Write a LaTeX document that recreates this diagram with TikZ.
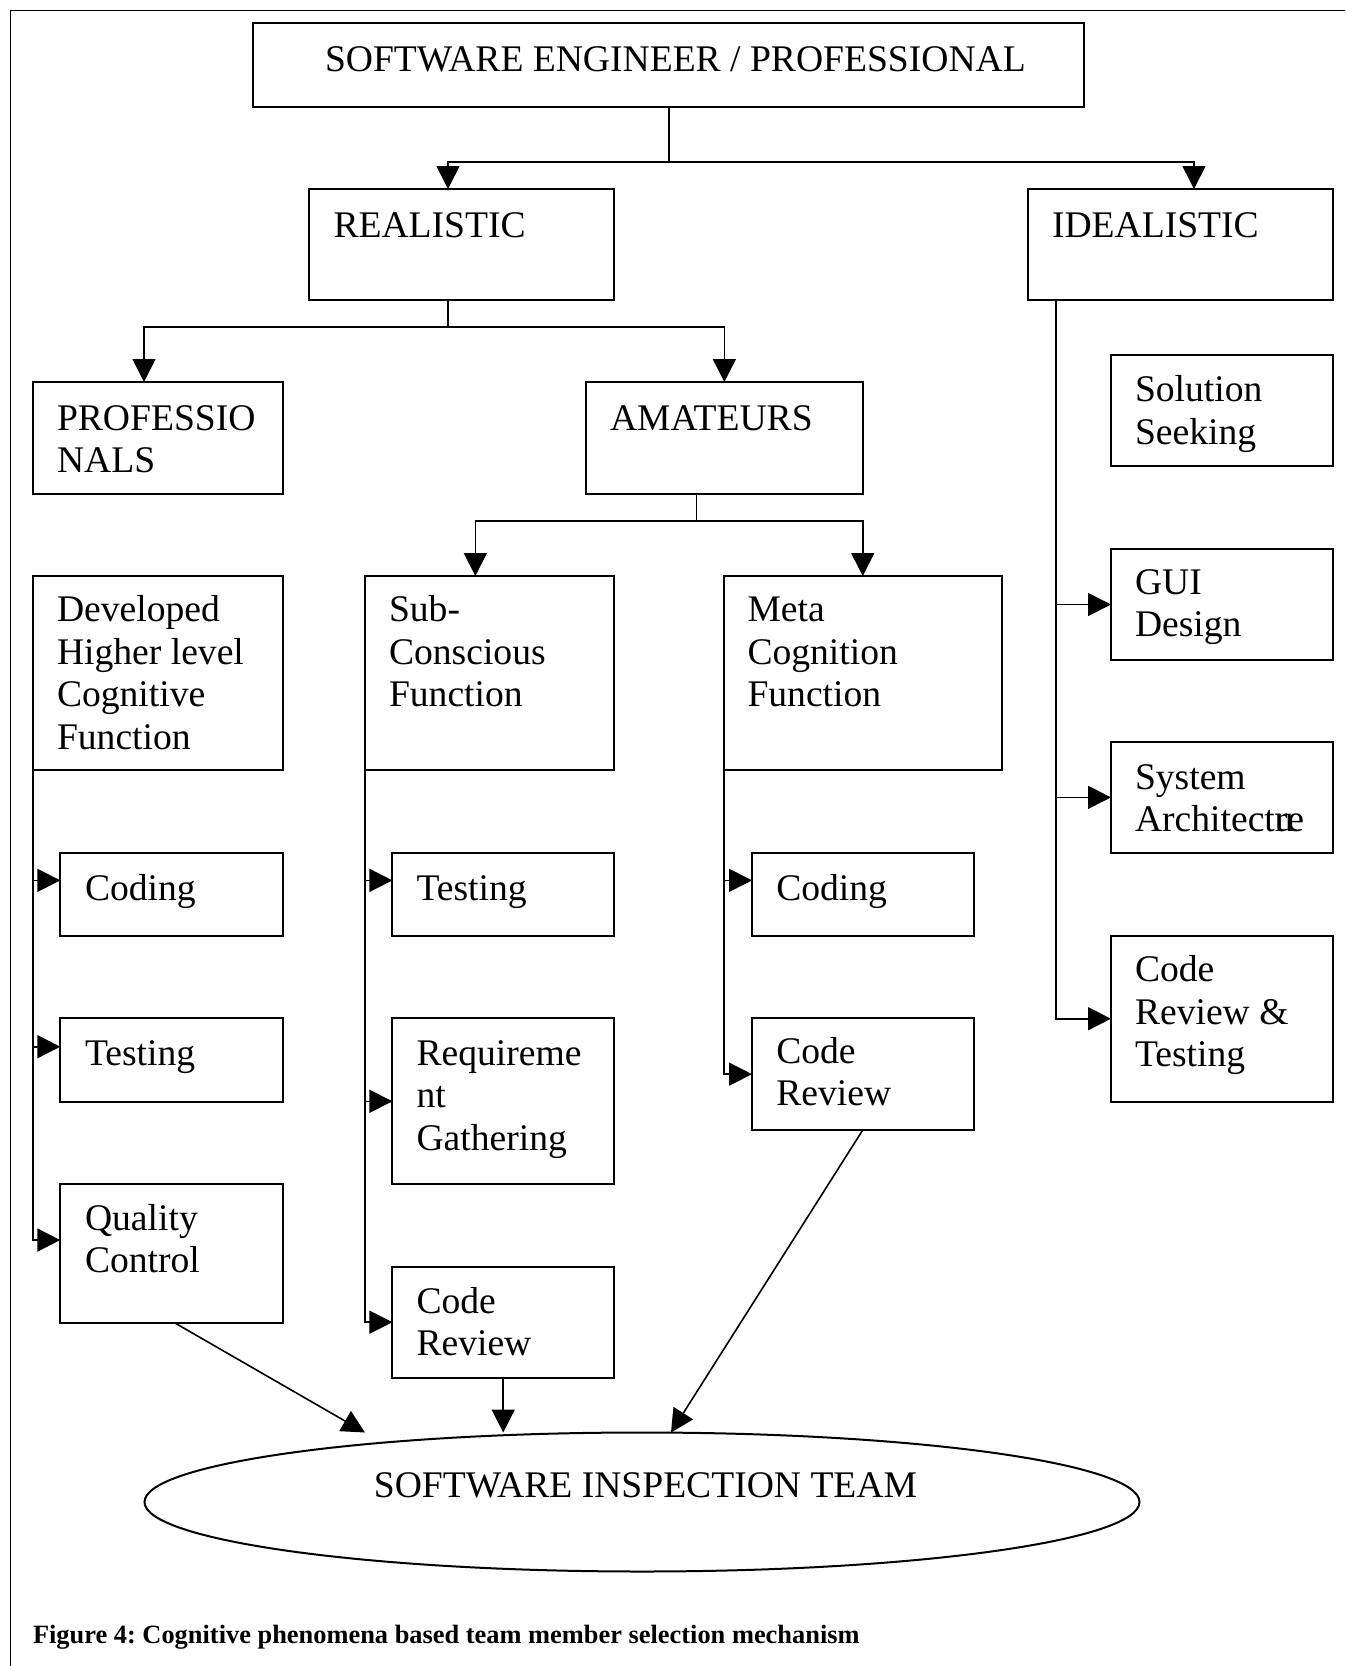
\documentclass[tikz,border=0pt]{standalone}
\usepackage{fontspec}
\setmainfont{Liberation Serif}
\usetikzlibrary{arrows.meta,calc,shapes.geometric}
\frenchspacing
\tikzset{
 boxst/.style={draw, line width=1pt, rectangle, inner sep=0pt, outer sep=0pt, anchor=north west},
 txt/.style={inner sep=0pt, outer sep=0pt, anchor=north west, align=left, font=\fontsize{18.8}{21.25}\selectfont},
 ln/.style={line width=0.8pt},
 arr/.style={line width=0.8pt, -{Triangle[width=11.5pt,length=11.5pt]}},
}
\newcommand\mybox[5]{\node[boxst, minimum width={(#3-#1)*0.5pt}, minimum height={(#4-#2)*0.5pt}] (#5) at (#1,#2) {};}
\newcommand\mytext[4]{\node[txt] (#4) at (#1,#2-28) {\rule{0pt}{14pt}#3};}
\begin{document}
\begin{tikzpicture}[x=0.5pt,y=-0.5pt]
\useasboundingbox (0,0) rectangle (1345,1666);
% frame
\draw[line width=0.8pt] (10.5,1666) -- (10.5,10.5) -- (1345,10.5);
% boxes
\mybox{253}{23}{1084}{107}{top}
\mybox{309}{189}{614}{300}{real}
\mybox{1028}{189}{1333}{300}{ideal}
\mybox{33}{382}{282.6}{494}{prof}
\mybox{585.7}{382}{863}{494}{amat}
\mybox{1111}{355}{1333}{466}{sol}
\mybox{33}{576}{282.6}{770}{dev}
\mybox{364.7}{576}{614}{770}{sub}
\mybox{724}{576}{1001.5}{770}{meta}
\mybox{1111}{549}{1333}{660}{gui}
\mybox{1111}{742}{1333}{852.7}{sys}
\mybox{1111}{935.7}{1333}{1101.7}{crt}
\mybox{60.3}{852.7}{282.6}{936}{codl}
\mybox{60.3}{1018.3}{282.6}{1101.7}{tstl}
\mybox{60.3}{1184}{282.6}{1322.7}{qc}
\mybox{392.4}{852.7}{614}{936}{tstm}
\mybox{392.4}{1018.3}{614}{1184.3}{req}
\mybox{392.4}{1266.7}{614}{1377.7}{crm}
\mybox{752}{852.7}{973.5}{936}{codr}
\mybox{752}{1018.3}{973.5}{1130}{crr}
\node[ellipse, draw, line width=1pt, inner sep=0pt, outer sep=0pt, minimum width=497.5pt, minimum height=69.5pt] (ell) at (642,1502) {};
% texts
\node[txt, anchor=base west] (topt) at (325,71) {SOFTWARE ENGINEER / PROFESSIONAL};
\node[txt, anchor=base west] (realt) at (333.5,237) {REALISTIC};
\node[txt, anchor=base west] (idealt) at (1052,237) {IDEALISTIC};
\mytext{57}{430}{PROFESSIO\\NALS}{proft}
\node[txt, anchor=base west] (amatt) at (610,430) {AMATEURS};
\mytext{1135}{401.7}{Solution\\Seeking}{solt}
\mytext{57}{621.7}{Developed\\Higher level\\Cognitive\\Function}{devt}
\mytext{389}{621.7}{Sub-\\Conscious\\Function}{subt}
\mytext{747.5}{621.7}{Meta\\Cognition\\Function}{metat}
\mytext{1135}{594}{GUI\\Design}{guit}
\mytext{1135}{789}{System\\Architect\rlap{u}re}{syst}
\mytext{1135}{981.7}{Code\\Review \&\\Testing}{crtt}
\node[txt, anchor=base west] (codlt) at (85,900) {Coding};
\node[txt, anchor=base west] (tstlt) at (85,1065.7) {Testing};
\mytext{85}{1230}{Quality\\Control}{qct}
\node[txt, anchor=base west] (tstmt) at (416.5,900) {Testing};
\mytext{416.5}{1065}{Requireme\\nt\\Gathering}{reqt}
\mytext{416.5}{1313}{Code\\Review}{crmt}
\node[txt, anchor=base west] (codrt) at (776.3,900) {Coding};
\mytext{776.3}{1063.3}{Code\\Review}{crrt}
\node[txt, anchor=base] (ellt) at (645.5,1497) {SOFTWARE INSPECTION TEAM};
\node[inner sep=0pt, anchor=base west, font=\fontsize{13.2}{15}\selectfont\bfseries] (cap) at (32.6,1643) {Figure 4: Cognitive phenomena based team member selection mechanism};
% top connectors
\coordinate (j1) at (669,162);
\draw[ln] (top.south -| j1) -- (j1);
\draw[arr] (j1) -| ($(real.north)+(-13.5,0)$);
\draw[arr] (j1) -| ($(ideal.north)+(13.5,0)$);
\coordinate (j2) at (448,327);
\draw[ln] (real.south -| j2) -- (j2);
\draw[arr] (j2) -| ($(prof.north)+(-13.8,0)$);
\draw[arr] (j2) -| (amat.north);
\coordinate (j3) at (696.5,520.7);
\draw[ln] (amat.south -| j3) -- (j3);
\draw[arr] (j3) -| ($(sub.north)+(-14,0)$);
\draw[arr] (j3) -| (meta.north);
% idealistic column
\coordinate (ivt) at ($(ideal.south west)+(28,0)$);
\draw[arr] (ivt) |- (crt.west);
\draw[arr] (ivt |- gui.west) -- (gui.west);
\draw[arr] (ivt |- sys.west) -- (sys.west);
% left column
\coordinate (a1) at ($(codl.west)+(0,-14)$);
\coordinate (a2) at ($(tstl.west)+(0,-13.3)$);
\coordinate (a3) at ($(qc.west)+(0,-13.3)$);
\draw[arr] (dev.south west) |- (a3);
\draw[arr] (dev.south west |- a1) -- (a1);
\draw[arr] (dev.south west |- a2) -- (a2);
% middle column
\coordinate (b1) at ($(tstm.west)+(0,-14)$);
\draw[arr] (sub.south west) |- (crm.west);
\draw[arr] (sub.south west |- b1) -- (b1);
\draw[arr] (sub.south west |- req.west) -- (req.west);
% meta column
\coordinate (c1) at ($(codr.west)+(0,-14)$);
\draw[arr] (meta.south west) |- (crr.west);
\draw[arr] (meta.south west |- c1) -- (c1);
% to ellipse
\draw[arr] ($(qc.south)+(3,0)$) -- ($(ell.north)+(-277,0)$);
\draw[arr] (crm.south) -- (crm.south |- ell.north);
\draw[arr] (crr.south) -- ($(ell.north)+(29,0)$);
\end{tikzpicture}
\end{document}
